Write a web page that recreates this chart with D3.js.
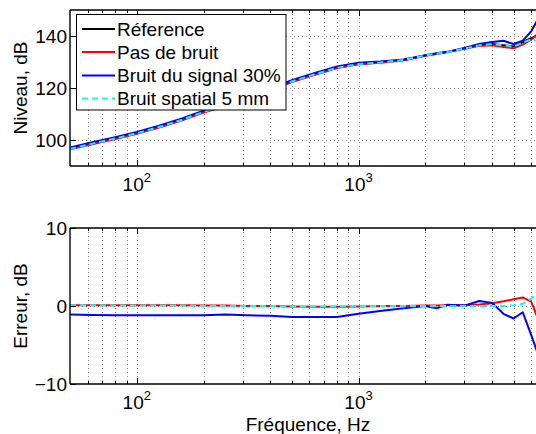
<!DOCTYPE html>
<html>
<head>
<meta charset="utf-8">
<script src="https://cdn.jsdelivr.net/npm/d3@7"></script>
<style>
  html, body { margin: 0; padding: 0; background: #fff; }
  svg { display: block; font-family: "Liberation Sans", Arial, Helvetica, sans-serif; }
</style>
</head>
<body>
<svg id="chart" width="536" height="434"></svg>
<script>
// ---------- data ----------
const freqs = [50,63,80,100,125,160,200,250,315,400,500,630,800,1000,1250,1600,2000,2250,2500,3000,3500,4000,4500,5000,5500,6000,6500,7000];

const levelReference = [96.6,98.6,100.6,102.6,104.9,107.8,110.8,113.2,116.0,119.2,122.5,125.2,127.8,129.2,129.8,130.8,132.5,133.2,133.8,135.2,136.4,136.9,136.4,136.0,137.7,139.2,140.4,141.5];
const levelNoNoise   = [96.4,98.4,100.4,102.4,104.7,107.6,110.6,113.0,115.8,119.0,122.3,125.0,127.7,129.1,129.7,130.7,132.4,133.1,133.7,135.1,136.2,136.4,135.8,135.3,136.7,138.6,141.2,142.0];
const levelSignal    = [97.1,99.1,101.1,103.1,105.4,108.3,111.3,113.7,116.5,119.7,123.0,125.7,128.3,129.7,130.2,131.0,132.6,133.4,133.9,135.4,136.9,137.7,138.2,136.9,138.2,141.8,147.1,149.0];
const levelSpatial   = [96.6,98.6,100.6,102.6,104.9,107.8,110.8,113.2,116.0,119.2,122.5,125.2,127.8,129.2,129.8,130.8,132.5,133.2,133.8,135.2,136.4,136.9,136.4,135.9,137.5,138.7,138.0,137.8];

const errNoNoise = [0.1,0.1,0.1,0.1,0.1,0.1,0.05,0.05,0.0,0.0,-0.05,-0.1,-0.1,-0.05,0,0,0.05,0.05,0.1,0.1,0.2,0.35,0.6,0.86,1.1,0.55,-1.9,-3.0];
const errSignal  = [-1.1,-1.15,-1.2,-1.2,-1.2,-1.2,-1.2,-1.1,-1.2,-1.25,-1.4,-1.4,-1.4,-1.0,-0.65,-0.3,0,-0.3,0.15,0.05,0.65,0.4,-1.0,-1.6,-0.8,-3.7,-6.5,-8.0];
const errSpatial = [0.1,0.1,0.05,0.05,0.05,0.05,0,0,0,0,-0.05,-0.05,-0.05,0,0,0,0,0,0,0,0,0,0,0.1,0.3,0.9,2.1,2.8];

const seriesNames = ["Réference", "Pas de bruit", "Bruit du signal 30%", "Bruit spatial 5 mm"];
const xTickExponents = [2, 3];
const xGridValues = [60,70,80,90,100,200,300,400,500,600,700,800,900,1000,2000,3000,4000,5000,6000,7000];
const yTicksTop = [100, 120, 140];
const yTicksBottom = [-10, 0, 10];
const xLabel = "Fréquence, Hz";
const yLabelTop = "Niveau, dB";
const yLabelBottom = "Erreur, dB";

// ---------- styling ----------
const colors = ["#000000", "#ff0000", "#0000ff", "#00ffff"];
const dashes = [null, null, null, "6,4"];
const FONT = 19;

const svg = d3.select("#chart");
svg.append("rect").attr("width", 536).attr("height", 434).attr("fill", "#fff");

const x = d3.scaleLog().domain([50, 7000]).range([70, 546]);

function panel(opts) {
  const { y, yTicks, series, yLabel, clipId, legend } = opts;
  const [y0, y1] = y.range(); // bottom, top
  const g = svg.append("g");
  g.append("clipPath").attr("id", clipId)
    .append("rect").attr("x", 70).attr("y", y1).attr("width", 476).attr("height", y0 - y1);

  // grid
  const grid = g.append("g").attr("stroke", "#8a8a8a").attr("stroke-width", 1).attr("stroke-dasharray", "1,3");
  grid.selectAll("line.gx").data(xGridValues).join("line")
    .attr("x1", d => Math.round(x(d)) + 0.5).attr("x2", d => Math.round(x(d)) + 0.5)
    .attr("y1", y1).attr("y2", y0);
  grid.selectAll("line.gy").data(yTicks.filter(d => d !== y.domain()[0] && d !== y.domain()[1])).join("line")
    .attr("x1", 70).attr("x2", 546)
    .attr("y1", d => Math.round(y(d)) + 0.5).attr("y2", d => Math.round(y(d)) + 0.5);

  // series lines
  const line = d3.line().x((d, i) => x(freqs[i])).y(d => y(d));
  const lg = g.append("g").attr("clip-path", `url(#${clipId})`);
  series.forEach(s => {
    lg.append("path").datum(s.values)
      .attr("d", line)
      .attr("fill", "none")
      .attr("stroke", colors[s.idx])
      .attr("stroke-width", 2)
      .attr("stroke-linejoin", "round")
      .attr("stroke-dasharray", dashes[s.idx]);
  });

  // tick marks (inside, mirrored top/bottom)
  const tk = g.append("g").attr("stroke", "#000").attr("stroke-width", 1);
  const majors = xTickExponents.map(e => Math.pow(10, e));
  xGridValues.forEach(v => {
    const len = majors.includes(v) ? 6 : 3;
    const px = Math.round(x(v)) + 0.5;
    tk.append("line").attr("x1", px).attr("x2", px).attr("y1", y0).attr("y2", y0 - len);
    tk.append("line").attr("x1", px).attr("x2", px).attr("y1", y1).attr("y2", y1 + len);
  });
  yTicks.forEach(v => {
    const py = Math.round(y(v)) + 0.5;
    tk.append("line").attr("x1", 70).attr("x2", 76).attr("y1", py).attr("y2", py);
  });

  // axes box (right side is beyond the picture)
  const bx = g.append("g").attr("stroke", "#000").attr("stroke-width", 1.4).attr("fill", "none");
  bx.append("line").attr("x1", 70).attr("x2", 546).attr("y1", y0).attr("y2", y0);
  bx.append("line").attr("x1", 70).attr("x2", 546).attr("y1", y1).attr("y2", y1);
  bx.append("line").attr("x1", 70).attr("x2", 70).attr("y1", y1).attr("y2", y0);
  bx.append("line").attr("x1", 546).attr("x2", 546).attr("y1", y1).attr("y2", y0);

  // y tick labels
  g.selectAll("text.yt").data(yTicks).join("text")
    .attr("x", 67).attr("y", d => y(d)).attr("dy", "0.36em")
    .attr("text-anchor", "end").attr("font-size", FONT)
    .text(d => d < 0 ? "\u2212" + Math.abs(d) : d);

  // x tick labels 10^n
  const xt = g.selectAll("text.xt").data(xTickExponents).join("text")
    .attr("x", d => x(Math.pow(10, d))).attr("y", y0 + 25)
    .attr("text-anchor", "middle").attr("font-size", FONT);
  xt.append("tspan").text("10");
  xt.append("tspan").attr("font-size", 13).attr("dy", -9).text(d => d);

  // y label
  g.append("text")
    .attr("transform", `translate(27,${(y0 + y1) / 2}) rotate(-90)`)
    .attr("text-anchor", "middle").attr("font-size", FONT)
    .text(yLabel);

  if (legend) {
    const lgd = g.append("g");
    lgd.append("rect").attr("x", 76.5).attr("y", 14.5).attr("width", 209.5).attr("height", 95.5)
      .attr("fill", "#fff").attr("stroke", "#000").attr("stroke-width", 1);
    const rowsY = [29, 52, 75.5, 98.5];
    seriesNames.forEach((name, i) => {
      lgd.append("line").attr("x1", 82).attr("x2", 115).attr("y1", rowsY[i]).attr("y2", rowsY[i])
        .attr("stroke", colors[i]).attr("stroke-width", 2).attr("stroke-dasharray", dashes[i]);
      lgd.append("text").attr("x", 117).attr("y", rowsY[i]).attr("dy", "0.36em")
        .attr("font-size", FONT).text(name);
    });
  }
}

const yTop = d3.scaleLinear().domain([90, 150]).range([166, 10]);
const yBot = d3.scaleLinear().domain([-10, 10]).range([384, 228]);

panel({
  y: yTop, yTicks: yTicksTop, yLabel: yLabelTop, clipId: "clipTop", legend: true,
  series: [
    { idx: 0, values: levelReference },
    { idx: 1, values: levelNoNoise },
    { idx: 2, values: levelSignal },
    { idx: 3, values: levelSpatial }
  ]
});

panel({
  y: yBot, yTicks: yTicksBottom, yLabel: yLabelBottom, clipId: "clipBot", legend: false,
  series: [
    { idx: 1, values: errNoNoise },
    { idx: 2, values: errSignal },
    { idx: 3, values: errSpatial }
  ]
});

// x label (centred on the full axes width)
svg.append("text").attr("x", 308).attr("y", 431)
  .attr("text-anchor", "middle").attr("font-size", FONT).text(xLabel);
</script>
</body>
</html>
